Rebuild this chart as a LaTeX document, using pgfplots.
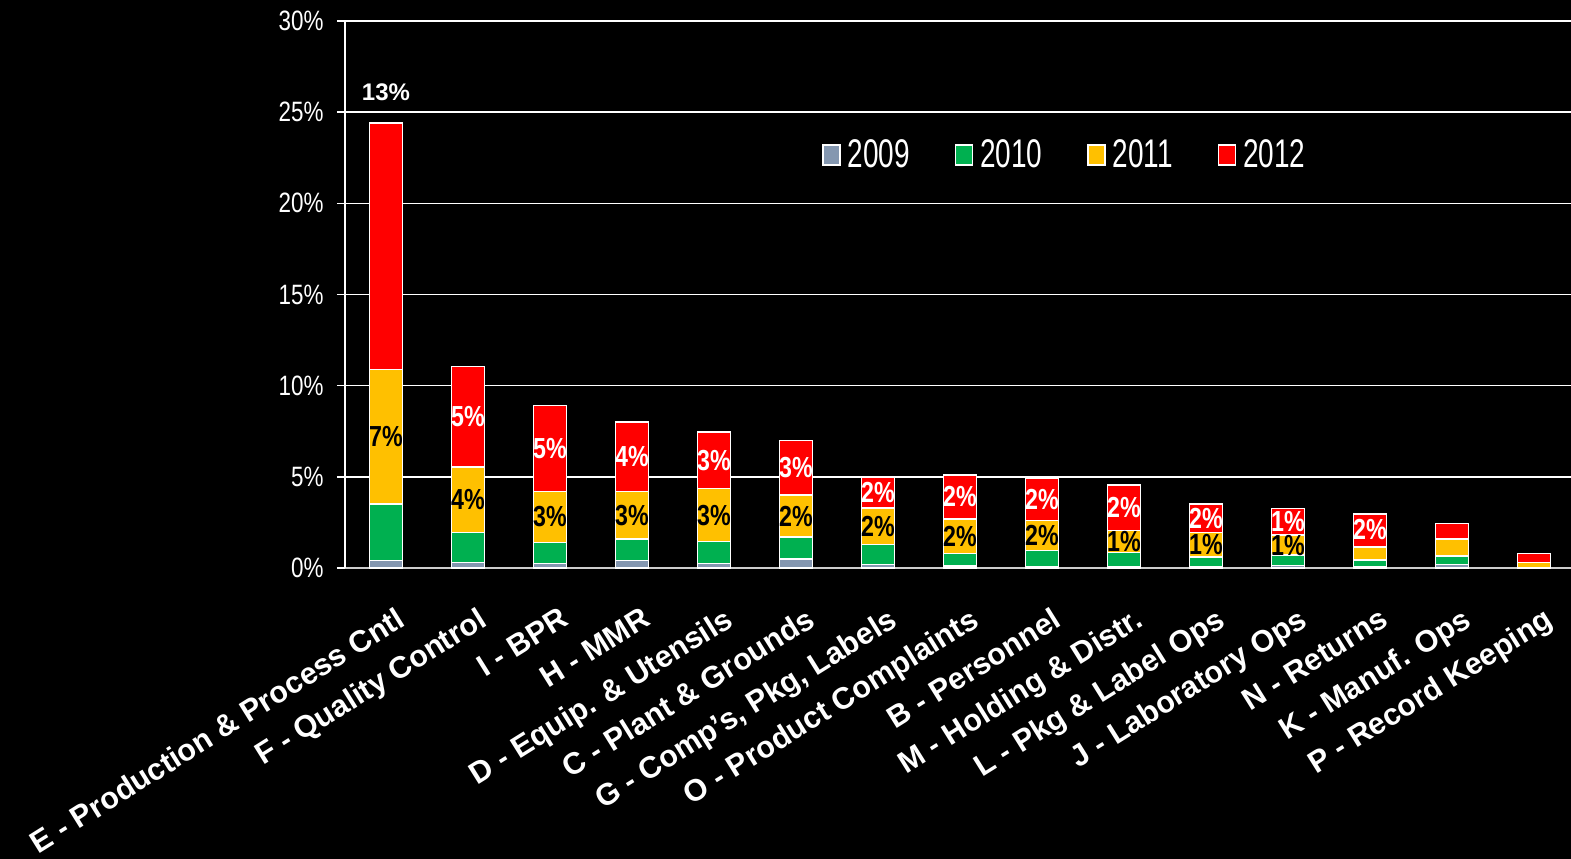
\documentclass[border=0pt]{standalone}
\usepackage{fontspec}
\setmainfont{Liberation Sans}
\newfontfamily\narrowfont{Liberation Sans}[FakeStretch=0.8]
\newfontfamily\legendfont{Liberation Sans}[FakeStretch=0.7]
\usepackage{pgfplots}
\usepackage{pgfplotstable}
\pgfplotsset{compat=1.18}
\definecolor{c09}{HTML}{8497B0}
\definecolor{c10}{HTML}{00B050}
\definecolor{c11}{HTML}{FFC000}
\definecolor{c12}{HTML}{FF0000}
\pgfplotstableread{
x  a     b     c     d
0  0.4   3.1   7.4   13.5
1  0.3   1.65  3.6   5.5
2  0.25  1.15  2.8   4.7
3  0.4   1.2   2.6   3.8
4  0.25  1.2   2.9   3.1
5  0.5   1.2   2.3   3.0
6  0.2   1.1   2.0   1.7
7  0.1   0.7   1.9   2.4
8  0.05  0.9   1.65  2.3
9  0.05  0.8   1.2   2.5
10 0.05  0.55  1.35  1.55
11 0.15  0.55  1.1   1.45
12 0.05  0.4   0.7   1.8
13 0.2   0.45  0.95  0.85
14 0     0     0.3   0.5
}\data
\pgfplotstableread{
x  y     l
0  7.2   7
1  3.75  4
2  2.8   3
3  2.9   3
4  2.9   3
5  2.85  2
6  2.3   2
7  1.75  2
8  1.775 2
9  1.45  1
10 1.275 1
11 1.25  1
}\ylab
\pgfplotstableread{
x  y     l
1  8.3   5
2  6.55  5
3  6.1   4
4  5.9   3
5  5.5   3
6  4.15  2
7  3.9   2
8  3.75  2
9  3.3   2
10 2.725 2
11 2.525 1
12 2.1   2
}\rlab
\pgfplotstableread{
x  y     l
0  26.1  13
}\tlab
\begin{document}
\begin{tikzpicture}
\useasboundingbox (-345pt,-291pt) rectangle (1226pt,568pt);
\fill[black] (-345pt,-291pt) rectangle (1226pt,568pt);
\begin{axis}[
  at={(0pt,0pt)}, anchor=south west,
  scale only axis, width=1230pt, height=547pt,
  ybar stacked, bar width=33pt,
  xmin=-0.5, xmax=14.5, ymin=0, ymax=30,
  xtick={0,...,14},
  xticklabels={E - Production \& Process Cntl, F - Quality Control, I - BPR, H - MMR, D - Equip. \& Utensils, C - Plant \& Grounds, G - Comp's{,} Pkg{,} Labels, O - Product Complaints, B - Personnel, M - Holding \& Distr., L - Pkg \& Label Ops, J - Laboratory Ops, N - Returns, K - Manuf. Ops, P - Record Keeping},
  ytick={0,5,...,30},
  yticklabels={0\%,5\%,10\%,15\%,20\%,25\%,30\%},
  axis x line*=bottom, axis y line*=left,
  x axis line style={draw=white!80!black, line width=1.5pt},
  y axis line style={draw=white, line width=1.5pt},
  ymajorgrids, grid style={white, line width=1.5pt},
  xtick style={draw=none}, ytick style={white, line width=1.5pt},
  tick align=outside, major tick length=8pt,
  yticklabel style={font=\narrowfont\fontsize{28}{28}\selectfont, text=white, xshift=-10pt},
  xticklabel style={xshift=9pt, yshift=-30pt, rotate=32, anchor=north east, font=\bfseries\fontsize{30.5}{30.5}\selectfont, text=white, inner sep=0pt},
  legend columns=4,
  legend image code/.code={\draw[#1, draw=white, line width=1.2pt] (0pt,-11pt) rectangle (17pt,9pt);},
  legend style={at={(axis description cs:0.388,0.757)}, anchor=west, draw=none, fill=none, inner sep=0pt,
    text=white, font=\legendfont\fontsize{40}{40}\selectfont,
    nodes={inner sep=4pt},
    /tikz/every odd column/.append style={column sep=3pt},
    /tikz/every even column/.append style={column sep=41pt}},
]
\addplot[fill=c09, draw=white, line width=1.5pt] table[x=x,y=a] \data;
\addplot[fill=c10, draw=white, line width=1.5pt] table[x=x,y=b] \data;
\addplot[fill=c11, draw=white, line width=1.5pt] table[x=x,y=c] \data;
\addplot[fill=c12, draw=white, line width=1.5pt] table[x=x,y=d] \data;
\legend{2009,2010,2011,2012}
\end{axis}
\begin{axis}[
  at={(0pt,0pt)}, anchor=south west,
  scale only axis, width=1230pt, height=547pt,
  xmin=-0.5, xmax=14.5, ymin=0, ymax=30,
  hide axis, clip=false,
]
\addplot[draw=none, mark=none, nodes near coords={\pgfplotspointmeta\%}, point meta=explicit symbolic,
  every node near coord/.append style={anchor=center, text=black, font=\narrowfont\bfseries\fontsize{29}{29}\selectfont}]
  table[x=x,y=y,meta=l] \ylab;
\addplot[draw=none, mark=none, nodes near coords={\pgfplotspointmeta\%}, point meta=explicit symbolic,
  every node near coord/.append style={anchor=center, text=white, font=\narrowfont\bfseries\fontsize{29}{29}\selectfont}]
  table[x=x,y=y,meta=l] \rlab;
\addplot[draw=none, mark=none, nodes near coords={\pgfplotspointmeta\%}, point meta=explicit symbolic,
  every node near coord/.append style={anchor=center, text=white, font=\bfseries\fontsize{24}{24}\selectfont}]
  table[x=x,y=y,meta=l] \tlab;
\end{axis}
\end{tikzpicture}
\end{document}
